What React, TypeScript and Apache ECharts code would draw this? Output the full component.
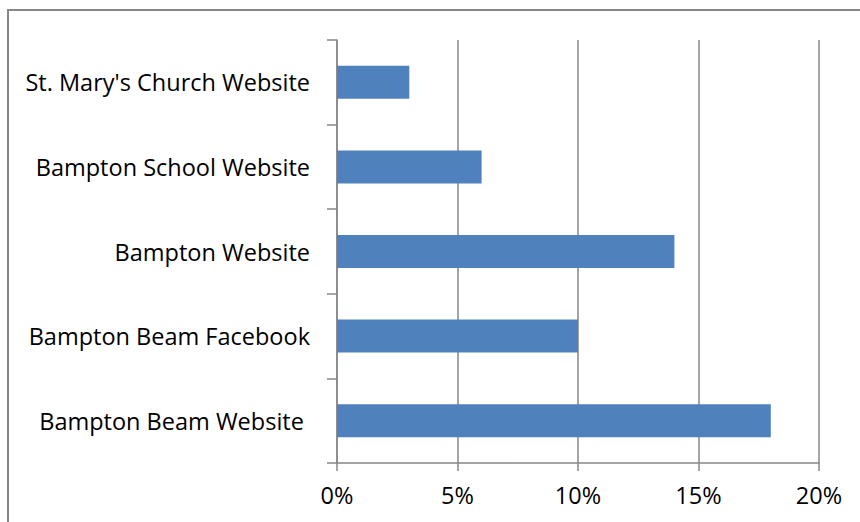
import React, { useEffect, useRef } from "react";
import * as echarts from "echarts";

const categories = [
  "St. Mary's Church Website",
  "Bampton School Website",
  "Bampton Website",
  "Bampton Beam Facebook",
  "Bampton Beam Website ",
];
const values = [0.03, 0.06, 0.14, 0.1, 0.18];
const xTicks = [0, 0.05, 0.1, 0.15, 0.2];

export default function App() {
  const ref = useRef<HTMLDivElement>(null);
  useEffect(() => {
    if (!ref.current) return;
    const chart = echarts.init(ref.current, undefined, { renderer: "svg" });
    const font = "Open Sans";
    const gray = "#878787";
    chart.setOption({
      animation: false,
      backgroundColor: "#ffffff",
      textStyle: { fontFamily: font },
      graphic: [
        {
          type: "rect",
          shape: { x: 8, y: 10, width: 900, height: 600 },
          style: { fill: "none", stroke: gray, lineWidth: 2 },
          silent: true,
        },
      ],
      grid: { left: 337, right: 41, top: 40, bottom: 59 },
      xAxis: {
        type: "value",
        min: xTicks[0],
        max: xTicks[xTicks.length - 1],
        interval: 0.05,
        axisLine: { show: true, lineStyle: { color: gray, width: 1.5 } },
        axisTick: { show: true, length: 8, lineStyle: { color: gray, width: 1.5 } },
        splitLine: { show: true, lineStyle: { color: gray, width: 1.5 } },
        axisLabel: {
          color: "#000",
          fontSize: 23.5,
          fontFamily: font,
          margin: 20,
          formatter: (v: number) => Math.round(v * 100) + "%",
        },
      },
      yAxis: {
        type: "category",
        data: categories,
        inverse: true,
        axisLine: { show: true, lineStyle: { color: gray, width: 1.5 } },
        axisTick: { show: true, length: 10, lineStyle: { color: gray, width: 1.5 } },
        axisLabel: { color: "#000", fontSize: 23.5, fontFamily: font, margin: 27 },
      },
      series: [
        {
          type: "bar",
          data: values,
          barWidth: 33,
          itemStyle: { color: "#4F81BD" },
        },
      ],
    });
    return () => chart.dispose();
  }, []);
  return (
    <div
      ref={ref}
      style={{ position: "fixed", left: 0, top: 0, width: 860, height: 522 }}
    />
  );
}
